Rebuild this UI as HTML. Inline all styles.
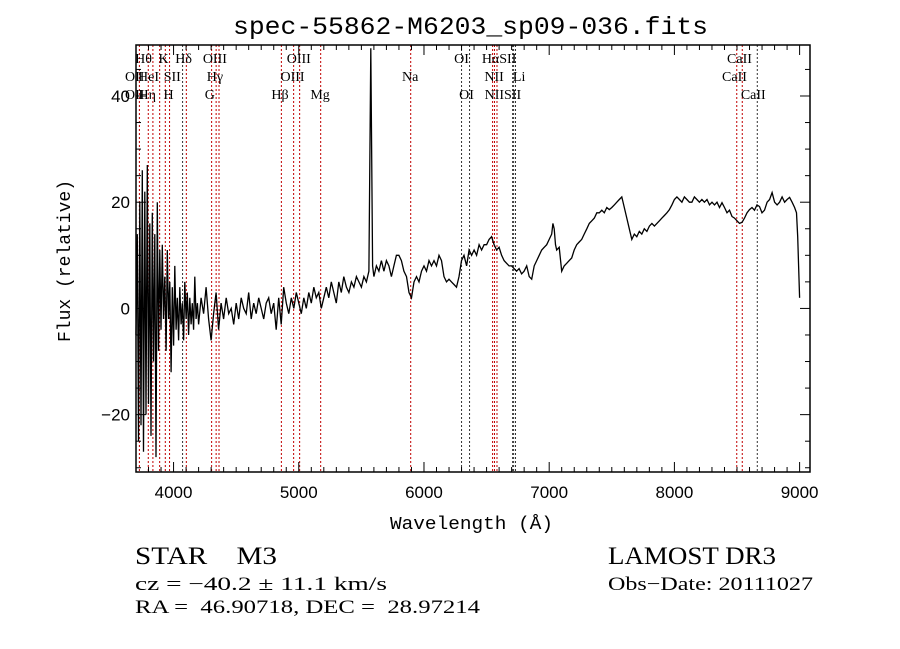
<!DOCTYPE html>
<html><head><meta charset="utf-8"><style>
body{margin:0;background:#fff;width:900px;height:649px;overflow:hidden}
svg{display:block}
.mono{font-family:"Liberation Mono",monospace}
.serif{font-family:"Liberation Serif",serif}
.sans{font-family:"Liberation Sans",sans-serif}
</style></head><body>
<svg id="chart" width="900" height="649" xmlns="http://www.w3.org/2000/svg">
<text x="233" y="34" textLength="475" lengthAdjust="spacingAndGlyphs" class="mono" font-size="25">spec-55862-M6203_sp09-036.fits</text>
<text x="390" y="529" textLength="163" lengthAdjust="spacingAndGlyphs" class="mono" font-size="18">Wavelength (Å)</text>
<text transform="translate(70,261) rotate(-90)" text-anchor="middle" class="mono" font-size="18">Flux (relative)</text>
<text x="135" y="564" textLength="142" lengthAdjust="spacingAndGlyphs" class="serif" font-size="25" xml:space="preserve">STAR    M3</text>
<text x="135" y="590" textLength="252" lengthAdjust="spacingAndGlyphs" class="serif" font-size="19">cz = −40.2 ± 11.1 km/s</text>
<text x="135" y="613" textLength="345" lengthAdjust="spacingAndGlyphs" class="serif" font-size="19" xml:space="preserve">RA =  46.90718, DEC =  28.97214</text>
<text x="608" y="564" textLength="168" lengthAdjust="spacingAndGlyphs" class="serif" font-size="25">LAMOST DR3</text>
<text x="608" y="590" textLength="205" lengthAdjust="spacingAndGlyphs" class="serif" font-size="19">Obs−Date: 20111027</text>
<g id="lines"></g><g id="labels"></g><g id="spec"></g><g id="axes"></g>
</svg>
<script>
const waves=[3700,3710,3720,3730,3740,3750,3760,3770,3780,3790,3800,3810,3820,3830,3840,3850,3860,3870,3880,3890,3900,3910,3920,3930,3940,3950,3960,3970,3980,3990,4000,4010,4020,4030,4040,4050,4060,4070,4080,4090,4100,4110,4120,4130,4140,4150,4160,4170,4180,4190,4200,
4220,4240,4260,4280,4300,4320,4340,4360,4380,4400,4420,4440,4460,4480,4500,4520,4540,4560,4580,4600,4620,4640,4660,4680,4700,4720,4740,4760,4780,4800,4820,4840,4860,4880,4900,4920,4940,4960,4980,5000,5020,5040,5060,5080,5100,5120,5140,5160,5180,5200,5220,5240,5260,5280,5300,5320,5340,5360,5380,5400,5420,5440,5460,5480,5500,5520,5540,5560,5575,5590,
5600,5620,5640,5660,5680,5700,5720,5740,5760,5780,5800,5820,5840,5860,5880,5900,5920,5940,5960,5980,6000,6020,6040,6060,6080,6100,6120,6140,6160,6180,6200,6220,6240,6260,6280,6300,6320,6340,6360,6380,6400,6420,6440,6460,6480,6500,6520,6540,6560,6580,6600,6620,6640,6660,6680,6700,6720,6740,6760,6780,6800,6820,6840,6860,6880,6900,6920,6940,6960,6980,7000,7020,7030,7040,7050,7060,7080,7100,7120,7140,7160,7180,7200,7220,7240,7260,7280,7300,7320,7340,7360,7380,7400,7420,7440,7460,7480,7500,7520,7540,7560,7580,7600,7620,7640,7660,7680,7700,7720,7740,7760,7780,7800,7820,7840,7860,7880,7900,7920,7940,7960,7980,8000,8020,8040,8060,8080,8100,8120,8140,8160,8180,8200,8220,8240,8260,8280,8300,8320,8340,8360,8380,8400,8420,8440,8460,8480,8500,8520,8540,8560,8580,8600,8620,8640,8660,8680,8700,8720,8740,8760,8780,8800,8820,8840,8860,8880,8900,8920,8940,8960,8975,8985,8992,9000];
const fluxes=[-5,14,-25,20,-22,26,-27,22,-20,27,-18,16,-24,18,-10,14,-28,20,-8,11,-4,12,-2,6,-8,11,-2,5,-12,4,-7,8,-4,2,-6,4,-3,1,-6,5,-2,3,-5,2,-3,1,-4,6,-2,1,-3,
2,-1,4,-2,-6,-1,3,-4,1,-2,2,-1,0,-3,1,-2,2,0,-1,3,-2,1,-1,2,0,-2,1,2,-1,1,-4,2,-3,4,1,-1,2,0,3,1,-1,2,0,3,1,4,2,3,0,2,4,2,5,3,1,5,3,6,4,3,5,4,6,5,4,6,5,7,49,8,
6,8,7,9,7,9,8,6,8,10,10,9,7,6,3,2,5,6,5,7,8,7,9,8,9,8,10,9,6,5,5.5,5,4.5,4,6,9,10,8,11,10,11,10,12,11,12,12,13,13.5,12,11,11.5,10,9,8.5,8,8,7.5,7,7.5,6.5,7,8,6,5.5,8,9,10,11,11.5,12,13,14,16,15,12,11,11.5,7,8,8.5,9,9.5,11,12,12.5,13,14,15,16,16.5,17,18,18,18.5,18,19,18.6,19,19.5,20,20.5,21,19,17,15,13,14,13.5,14.5,14,15,14.5,15.5,16,15.5,16,16.5,17,17.5,18,18.6,19.5,20.5,21,20.5,20,21,20.5,20,20,21,20.5,20,20.5,20,20.5,19.5,20,19.5,20,19,19.9,19,18,18.5,17.3,17,16.5,16,16.2,17,18,18.6,19,18.5,19.5,19.2,18,18.5,20,20.5,21.8,20,19.5,20,21,20,20.5,20.9,20,19,18,13.5,8,2];
const lineWaves=[3727,3798,3835,3889,3934,3968,4072,4102,4304,4340,4363,4861,4959,5007,5175,5894,6300,6364,6548,6563,6583,6708,6716,6731,8498,8542,8662];
const lineColors=["r","r","r","r","r","r","k","r","r","r","r","r","r","r","r","r","k","k","r","r","r","k","k","k","r","r","k"];
const labelTexts=["Hθ","K","Hδ","OIII","OIII","OI","HαSII","CaII","OII","HeI","SII","Hγ","OIII","Na","NII","Li","CaII","OII","Hη","H","G","Hβ","Mg","OI","NIISII","CaII"];
const labelWaves=[3760,3920,4080,4330,5000,6300,6600,8520,3690,3800,3990,4330,4950,5890,6560,6760,8480,3690,3790,3960,4290,4850,5170,6340,6630,8630];
const labelRows=[0,0,0,0,0,0,0,0,1,1,1,1,1,1,1,1,1,2,2,2,2,2,2,2,2,2];
const xTicks=[4000,5000,6000,7000,8000,9000];
const yTicks=[-20,0,20,40];
const X0=136,X1=810,Y0=45,Y1=472;
const xmin=3700,xmax=9083,ymin=-30.8,ymax=49.6;
const sx=w=>X0+(w-xmin)/(xmax-xmin)*(X1-X0);
const sy=v=>Y1-(v-ymin)/(ymax-ymin)*(Y1-Y0);
const NS="http://www.w3.org/2000/svg";
function mk(tag,parent,attrs){const e=document.createElementNS(NS,tag);for(const k in attrs)e.setAttribute(k,attrs[k]);parent.appendChild(e);return e;}
const gL=document.getElementById('lines');
lineWaves.forEach((w,i)=>{const e=mk('line',gL,{x1:sx(w),x2:sx(w),y1:Y0,y2:Y1,stroke:lineColors[i]=="r"?"#c00000":"#333",'stroke-width':1,'stroke-dasharray':'2,2'});

});
const gT=document.getElementById('labels');
labelTexts.forEach((t,i)=>{const e=mk('text',gT,{x:sx(labelWaves[i]),y:63+labelRows[i]*18,'font-size':14,'class':'serif','text-anchor':'middle'});e.textContent=t;

});
const gS=document.getElementById('spec');
let d='';waves.forEach((w,i)=>{let v=Math.max(ymin,Math.min(ymax,fluxes[i]));d+=(i?'L':'M')+sx(w).toFixed(1)+' '+sy(v).toFixed(1);});
const p=mk('path',gS,{d:d,fill:'none',stroke:'#000','stroke-width':1.3});


const gA=document.getElementById('axes');
const fr=mk('rect',gA,{x:X0,y:Y0,width:X1-X0,height:Y1-Y0,fill:'none',stroke:'#000','stroke-width':1.5});


for(let w=3700;w<=9080;w+=100){const maj=w%1000==0;const L=maj?10:5;
mk('line',gA,{x1:sx(w),x2:sx(w),y1:Y1,y2:Y1-L,stroke:'#000'});mk('line',gA,{x1:sx(w),x2:sx(w),y1:Y0,y2:Y0+L,stroke:'#000'});}
for(let v=-30;v<=49;v+=5){const maj=v%20==0;const L=maj?10:5;
mk('line',gA,{x1:X0,x2:X0+L,y1:sy(v),y2:sy(v),stroke:'#000'});mk('line',gA,{x1:X1,x2:X1-L,y1:sy(v),y2:sy(v),stroke:'#000'});}
xTicks.forEach(t=>{const e=mk('text',gA,{x:sx(t),y:Y1+26,'text-anchor':'middle','font-size':17,'class':'sans'});e.textContent=t;

});
yTicks.forEach(t=>{const e=mk('text',gA,{x:X0-6,y:sy(t)+6,'text-anchor':'end','font-size':17,'class':'sans'});e.textContent=t==-20?'−20':t;

});
</script>
</body></html>
